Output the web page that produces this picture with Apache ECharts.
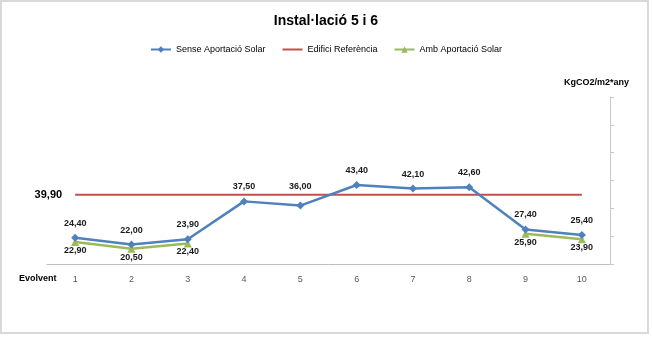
<!DOCTYPE html>
<html>
<head>
<meta charset="utf-8">
<script src="https://cdn.jsdelivr.net/npm/echarts@6/dist/echarts.min.js"></script>
<style>
  html, body { margin: 0; padding: 0; background: #fff; }
  #chart { width: 652px; height: 339px; }
</style>
</head>
<body>
<div id="chart"></div>
<script>
const categories = ['1', '2', '3', '4', '5', '6', '7', '8', '9', '10'];
const senseAportacio = [24.4, 22.0, 23.9, 37.5, 36.0, 43.4, 42.1, 42.6, 27.4, 25.4];
const edificiReferencia = [39.9, 39.9, 39.9, 39.9, 39.9, 39.9, 39.9, 39.9, 39.9, 39.9];
const ambAportacio = [22.9, 20.5, 22.4, null, null, null, null, null, 25.9, 23.9];

const font = 'Liberation Sans';
const fmt = v => v.toFixed(2).replace('.', ',');

const chart = echarts.init(document.getElementById('chart'));

const option = {
  animation: false,
  textStyle: { fontFamily: font },
  title: {
    text: 'Instal·lació 5 i 6',
    left: 'center',
    top: 9,
    textStyle: { fontFamily: font, fontSize: 14, fontWeight: 'bold', color: '#000' }
  },
  legend: {
    top: 40,
    left: 'center',
    itemWidth: 20,
    itemHeight: 8,
    itemGap: 16,
    textStyle: { fontFamily: font, fontSize: 9, color: '#000' },
    data: [
      'Sense Aportació Solar',
      { name: 'Edifici Referència', itemStyle: { opacity: 0 } },
      'Amb Aportació Solar'
    ]
  },
  grid: { left: 47, right: 42, top: 97, bottom: 75 },
  xAxis: {
    type: 'category',
    data: categories,
    axisLine: { lineStyle: { color: '#bfbfbf', width: 1 } },
    axisTick: { show: false },
    axisLabel: { margin: 11, fontSize: 9, color: '#595959', fontFamily: font }
  },
  yAxis: {
    type: 'value',
    position: 'right',
    min: 15,
    max: 75,
    interval: 10,
    splitLine: { show: false },
    axisLine: { show: true, lineStyle: { color: '#c8c8c8' } },
    axisTick: { show: true, length: 4, lineStyle: { color: '#c8c8c8' } },
    axisLabel: { show: false }
  },
  graphic: [
    {
      type: 'rect',
      shape: { x: 1, y: 1, width: 647, height: 332 },
      style: { fill: 'none', stroke: '#d9d9d9', lineWidth: 2 },
      silent: true
    },
    {
      type: 'text',
      left: 19,
      top: 274,
      style: { text: 'Evolvent', font: 'bold 9px "Liberation Sans"', fill: '#000' }
    },
    {
      type: 'text',
      right: 23,
      top: 78,
      style: { text: 'KgCO2/m2*any', font: 'bold 9px "Liberation Sans"', fill: '#000' }
    }
  ],
  series: [
    {
      name: 'Edifici Referència',
      type: 'line',
      data: edificiReferencia.map((v, i) => i === 0
        ? { value: v, label: { show: true, position: 'left', distance: 13, fontSize: 11, fontWeight: 'bold', color: '#000', formatter: p => fmt(p.value) } }
        : v),
      showSymbol: true,
      symbol: 'circle',
      symbolSize: 0,
      lineStyle: { color: '#C0504D', width: 2 },
      itemStyle: { color: '#C0504D' },
      z: 1
    },
    {
      name: 'Sense Aportació Solar',
      type: 'line',
      data: senseAportacio.map((v, i) => i === 4 ? { value: v, label: { distance: 11 } } : v),
      symbol: 'diamond',
      symbolSize: 8,
      lineStyle: { color: '#4F81BD', width: 2.5 },
      itemStyle: { color: '#4F81BD' },
      label: {
        show: true,
        position: 'top',
        distance: 6,
        fontSize: 9,
        fontWeight: 'bold',
        color: '#1a1a1a',
        formatter: p => fmt(p.value)
      },
      z: 3
    },
    {
      name: 'Amb Aportació Solar',
      type: 'line',
      data: ambAportacio,
      symbol: 'triangle',
      symbolSize: 8,
      connectNulls: false,
      lineStyle: { color: '#9BBB59', width: 2.5 },
      itemStyle: { color: '#9BBB59' },
      label: {
        show: true,
        position: 'bottom',
        distance: 0,
        fontSize: 9,
        fontWeight: 'bold',
        color: '#1a1a1a',
        formatter: p => fmt(p.value)
      },
      z: 2
    }
  ]
};

chart.setOption(option);
</script>
</body>
</html>
